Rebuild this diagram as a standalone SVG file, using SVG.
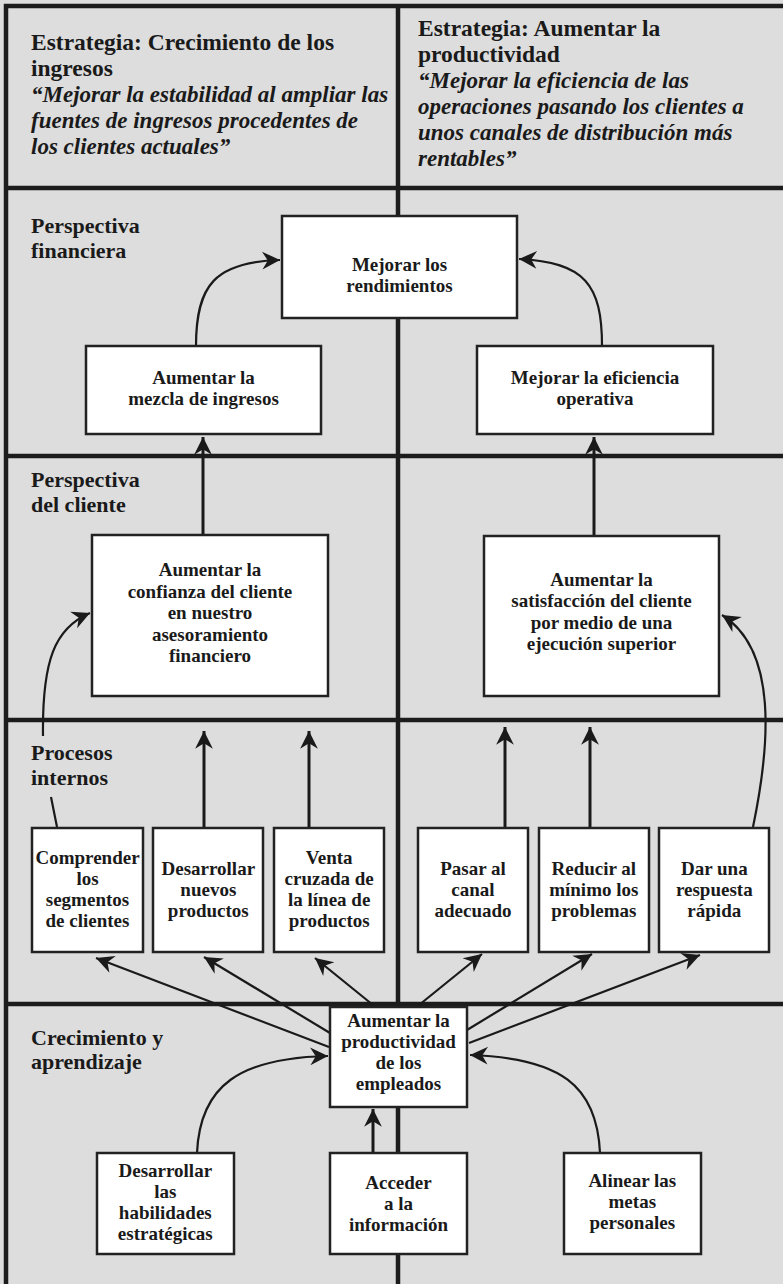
<svg xmlns="http://www.w3.org/2000/svg" width="783" height="1284" viewBox="0 0 783 1284">
  <style>
    .grid{stroke:#1c1c1c;stroke-width:4.5;fill:none}
    .box{fill:#ffffff;stroke:#222222;stroke-width:2.5}
    .t{font-family:"Liberation Serif","Times New Roman",serif;font-weight:bold;font-size:19px;fill:#1a1a1a;text-anchor:middle}
    .lbl{font-family:"Liberation Serif","Times New Roman",serif;font-weight:bold;font-size:22px;fill:#1a1a1a}
    .hd{font-family:"Liberation Serif","Times New Roman",serif;font-weight:bold;font-size:23.5px;fill:#1a1a1a}
    .hi{font-style:italic;font-size:23px}
    .c{fill:none;stroke:#1a1a1a;stroke-width:2.2;marker-end:url(#ah)}
    .cs{stroke-width:3}
  </style>
  <defs>
    <marker id="ah" markerUnits="userSpaceOnUse" markerWidth="20" markerHeight="20" viewBox="-17 -9 18 18" refX="0" refY="0" orient="auto">
      <path d="M0,0 L-16,-8 L-11,0 L-16,8 Z" fill="#1a1a1a"/>
    </marker>
  </defs>

  <!-- background -->
  <rect x="0" y="0" width="783" height="1284" fill="#dddddd"/>

  <!-- frame and lane grid -->
  <g id="grid" class="grid">
    <path d="M4,6 H783"/>
    <path d="M6,4 V1284"/>
    <path d="M4,188 H783"/>
    <path d="M4,456 H783"/>
    <path d="M4,720 H783"/>
    <path d="M4,1004 H783"/>
    <path d="M398,4 V1284"/>
  </g>

  <!-- strategy headers -->
  <g id="header-left" class="hd">
    <text x="31" y="50">Estrategia: Crecimiento de los</text>
    <text x="31" y="76">ingresos</text>
    <text class="hi" x="31" y="102">“Mejorar la estabilidad al ampliar las</text>
    <text class="hi" x="31" y="128">fuentes de ingresos procedentes de</text>
    <text class="hi" x="31" y="154">los clientes actuales”</text>
  </g>
  <g id="header-right" class="hd">
    <text x="418" y="36">Estrategia: Aumentar la</text>
    <text x="418" y="62">productividad</text>
    <text class="hi" x="418" y="88">“Mejorar la eficiencia de las</text>
    <text class="hi" x="418" y="114">operaciones pasando los clientes a</text>
    <text class="hi" x="418" y="140">unos canales de distribución más</text>
    <text class="hi" x="418" y="166">rentables”</text>
  </g>

  <!-- lane labels -->
  <g id="lane-financiera" class="lbl">
    <text x="31" y="233">Perspectiva</text>
    <text x="31" y="258">financiera</text>
  </g>
  <g id="lane-cliente" class="lbl">
    <text x="31" y="487">Perspectiva</text>
    <text x="31" y="512">del cliente</text>
  </g>
  <g id="lane-procesos" class="lbl">
    <text x="31" y="760">Procesos</text>
    <text x="31" y="785">internos</text>
  </g>
  <g id="lane-aprendizaje" class="lbl">
    <text x="31" y="1045">Crecimiento y</text>
    <text x="31" y="1069">aprendizaje</text>
  </g>

  <!-- connectors -->
  <g id="connectors">
    <!-- financial perspective -->
    <path class="c" d="M196,346 C196,285 215,262 280,260"/>
    <path class="c" d="M602,346 C602,285 585,262 519,259"/>
    <!-- customer to financial -->
    <path class="c cs" d="M203,535 V437"/>
    <path class="c cs" d="M594,536 V437"/>
    <!-- internal processes to customer -->
    <path class="c" d="M57,827 L51,797 M43,736 C42,660 55,628 90,613"/>
    <path class="c cs" d="M204,828 V731"/>
    <path class="c cs" d="M309,828 V731"/>
    <path class="c cs" d="M505,828 V727"/>
    <path class="c cs" d="M590,828 V727"/>
    <path class="c" d="M753,827 C770,745 778,650 722,615"/>
    <!-- employee productivity to internal processes -->
    <path class="c" d="M329,1047 L96,958"/>
    <path class="c" d="M330,1033 L204,957"/>
    <path class="c" d="M373,1005 L315,958"/>
    <path class="c" d="M419,1005 L482,954"/>
    <path class="c" d="M467,1030 L592,954"/>
    <path class="c" d="M469,1043 L700,955"/>
    <!-- learning and growth -->
    <path class="c" d="M197,1153 C200,1085 240,1058 328,1056"/>
    <path class="c cs" d="M373,1153 V1109"/>
    <path class="c" d="M600,1153 C597,1085 560,1058 470,1055"/>
  </g>

  <!-- financial perspective nodes -->
  <g id="mejorar-rendimientos">
    <rect class="box" x="282" y="216" width="235" height="102"/>
    <text class="t" x="399.5" y="271">Mejorar los</text>
    <text class="t" x="399.5" y="292">rendimientos</text>
  </g>
  <g id="mezcla-ingresos">
    <rect class="box" x="86" y="346" width="235" height="88"/>
    <text class="t" x="203.5" y="384">Aumentar la</text>
    <text class="t" x="203.5" y="405">mezcla de ingresos</text>
  </g>
  <g id="eficiencia-operativa">
    <rect class="box" x="477" y="346" width="236" height="88"/>
    <text class="t" x="595" y="384">Mejorar la eficiencia</text>
    <text class="t" x="595" y="405">operativa</text>
  </g>

  <!-- customer perspective nodes -->
  <g id="confianza-cliente">
    <rect class="box" x="92" y="535" width="236" height="161"/>
    <text class="t" x="210" y="576">Aumentar la</text>
    <text class="t" x="210" y="597.5">confianza del cliente</text>
    <text class="t" x="210" y="619">en nuestro</text>
    <text class="t" x="210" y="640.5">asesoramiento</text>
    <text class="t" x="210" y="662">financiero</text>
  </g>
  <g id="satisfaccion-cliente">
    <rect class="box" x="484" y="536" width="235" height="160"/>
    <text class="t" x="601.5" y="586">Aumentar la</text>
    <text class="t" x="601.5" y="607">satisfacción del cliente</text>
    <text class="t" x="601.5" y="628.5">por medio de una</text>
    <text class="t" x="601.5" y="650">ejecución superior</text>
  </g>

  <!-- internal process nodes -->
  <g id="comprender-segmentos">
    <rect class="box" x="32" y="828" width="111" height="124"/>
    <text class="t" x="87.5" y="863.5">Comprender</text>
    <text class="t" x="87.5" y="884.5">los</text>
    <text class="t" x="87.5" y="905.5">segmentos</text>
    <text class="t" x="87.5" y="926.5">de clientes</text>
  </g>
  <g id="desarrollar-productos">
    <rect class="box" x="153" y="828" width="110" height="124"/>
    <text class="t" x="208.3" y="875">Desarrollar</text>
    <text class="t" x="208.3" y="896">nuevos</text>
    <text class="t" x="208.3" y="917">productos</text>
  </g>
  <g id="venta-cruzada">
    <rect class="box" x="274" y="828" width="110" height="124"/>
    <text class="t" x="329.2" y="863.5">Venta</text>
    <text class="t" x="329.2" y="884.5">cruzada de</text>
    <text class="t" x="329.2" y="905.5">la línea de</text>
    <text class="t" x="329.2" y="926.5">productos</text>
  </g>
  <g id="pasar-canal">
    <rect class="box" x="418" y="828" width="110" height="124"/>
    <text class="t" x="473" y="875">Pasar al</text>
    <text class="t" x="473" y="896">canal</text>
    <text class="t" x="473" y="917">adecuado</text>
  </g>
  <g id="reducir-problemas">
    <rect class="box" x="539" y="828" width="110" height="124"/>
    <text class="t" x="593.8" y="875">Reducir al</text>
    <text class="t" x="593.8" y="896">mínimo los</text>
    <text class="t" x="593.8" y="917">problemas</text>
  </g>
  <g id="respuesta-rapida">
    <rect class="box" x="659" y="828" width="110" height="124"/>
    <text class="t" x="714.3" y="875">Dar una</text>
    <text class="t" x="714.3" y="896">respuesta</text>
    <text class="t" x="714.3" y="917">rápida</text>
  </g>

  <!-- learning and growth nodes -->
  <g id="productividad-empleados">
    <rect class="box" x="330" y="1007" width="137" height="100"/>
    <text class="t" x="398.5" y="1026.5">Aumentar la</text>
    <text class="t" x="398.5" y="1047.5">productividad</text>
    <text class="t" x="398.5" y="1068.5">de los</text>
    <text class="t" x="398.5" y="1089.5">empleados</text>
  </g>
  <g id="habilidades-estrategicas">
    <rect class="box" x="97" y="1153" width="137" height="101"/>
    <text class="t" x="165.3" y="1177">Desarrollar</text>
    <text class="t" x="165.3" y="1198">las</text>
    <text class="t" x="165.3" y="1219">habilidades</text>
    <text class="t" x="165.3" y="1240">estratégicas</text>
  </g>
  <g id="acceder-informacion">
    <rect class="box" x="330" y="1153" width="137" height="101"/>
    <text class="t" x="398.5" y="1189">Acceder</text>
    <text class="t" x="398.5" y="1210">a la</text>
    <text class="t" x="398.5" y="1231">información</text>
  </g>
  <g id="alinear-metas">
    <rect class="box" x="564" y="1153" width="137" height="101"/>
    <text class="t" x="632.3" y="1187">Alinear las</text>
    <text class="t" x="632.3" y="1208">metas</text>
    <text class="t" x="632.3" y="1229">personales</text>
  </g>
</svg>
